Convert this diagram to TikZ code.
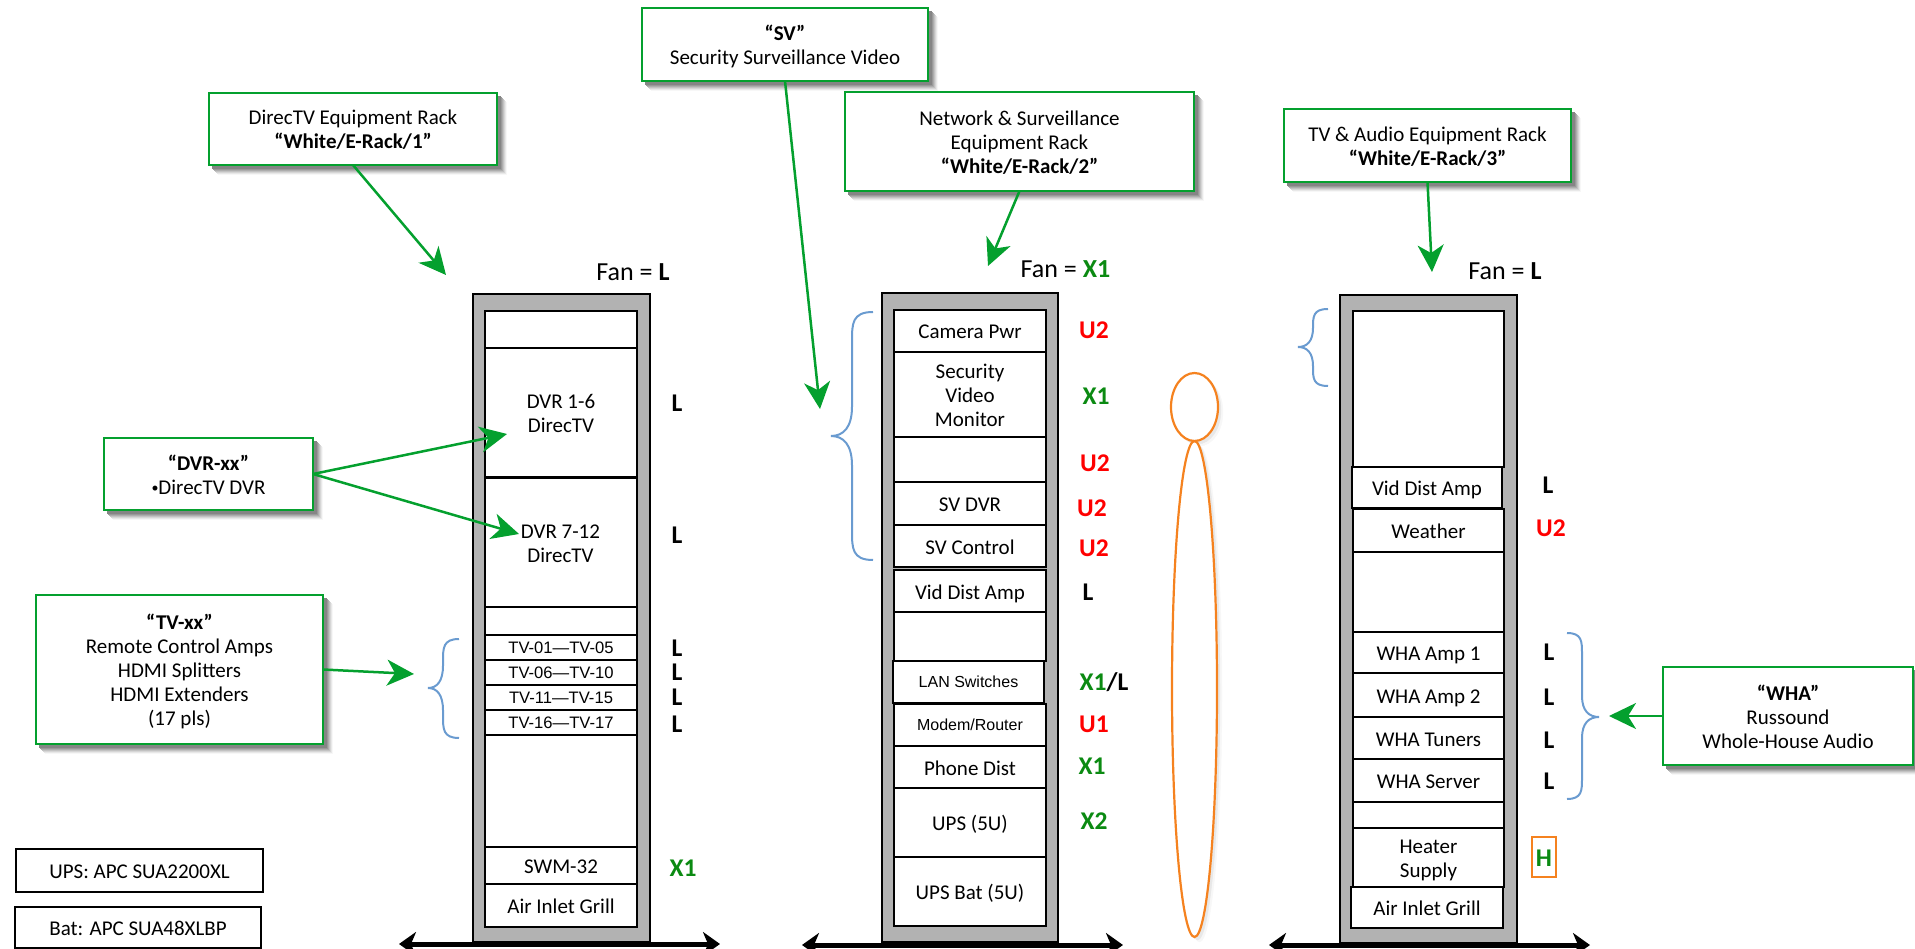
\documentclass[tikz,border=0pt]{standalone}
\usepackage{fontspec}
\setmainfont{Carlito}
\newfontfamily\arialf{Liberation Sans}
\usetikzlibrary{arrows.meta,shapes.geometric}
\definecolor{grn}{HTML}{04A02E}
\definecolor{dgrn}{HTML}{0B8A12}
\definecolor{rackgray}{HTML}{B2B2B2}
\definecolor{bracec}{HTML}{6A9BD0}
\definecolor{orng}{HTML}{F5821F}
\definecolor{sha}{gray}{0.97}
\definecolor{shb}{gray}{0.91}
\definecolor{shc}{gray}{0.84}
\definecolor{shd}{gray}{0.76}
\definecolor{she}{gray}{0.68}
\definecolor{shf}{gray}{0.60}
\definecolor{shg}{gray}{0.52}
\newcommand\lnst{\rule[-4pt]{0pt}{24pt}}
\newcommand\bgst{\rule[-6pt]{0pt}{28.4pt}}
\newcommand\rkfont{\fontsize{21}{24}\selectfont}
\newcommand\bgfont{\fontsize{25.5}{28}\selectfont}
\newcommand\tvfont{\arialf\fontsize{16.6}{20}\selectfont}
\tikzset{
  callout/.style={draw=grn,line width=2.6pt,fill=white,inner sep=0pt,outer sep=0pt,align=center,font=\rkfont},
  plainbox/.style={draw=black,line width=1.8pt,fill=white,inner sep=0pt,outer sep=0pt,align=center,font=\rkfont},
  rackbody/.style={draw=black,line width=2.2pt,fill=rackgray,inner sep=0pt,outer sep=0pt},
  rackitem/.style={draw=black,line width=2pt,fill=white,inner sep=0pt,outer sep=0pt,align=center,font=\rkfont},
  bigtag/.style={inner sep=0pt,outer sep=0pt,font=\bgfont\bfseries},
  fantag/.style={inner sep=0pt,outer sep=0pt,font=\fontsize{26}{28}\selectfont},
  greenarrow/.style={draw=grn,line width=2.5pt,-{Stealth[length=27pt,width=26pt,inset=8pt]}},
  groundline/.style={draw=black,line width=5pt,{Stealth[length=17pt,width=24pt,inset=5pt]}-{Stealth[length=17pt,width=24pt,inset=5pt]}},
  brace/.style={draw=bracec,line width=2pt},
  person/.style={ellipse,draw=orng,line width=2.2pt,fill=white,inner sep=0pt,outer sep=0pt}
}
% box from corners: style, name, x1,y1,x2,y2, text
\newcommand\bx[7]{\node[#1,minimum width={(#5-#3)*1pt},minimum height={(#6-#4)*1pt}] (#2) at ({(#3+#5)/2},{(#4+#6)/2}) {#7};}
% callout with a soft shadow built of solid greys: name, x1,y1,x2,y2, text
\newcommand\shr[5]{\path[draw=#1,fill=#1,line width=0.4pt] ({#2},{#3}) rectangle ({#4},{#5});}
\newcommand\cbx[6]{%
  \shr{sha}{#2+9}{#3+9}{#4+9}{#5+9}\shr{shb}{#2+8}{#3+8}{#4+8}{#5+8}%
  \shr{shc}{#2+7}{#3+7}{#4+7}{#5+7}\shr{shd}{#2+6}{#3+6}{#4+6}{#5+6}%
  \shr{she}{#2+5}{#3+5}{#4+5}{#5+5}\shr{shf}{#2+4}{#3+4}{#4+4}{#5+4}%
  \shr{shg}{#2+3}{#3+3}{#4+3}{#5+3}%
  \bx{callout}{#1}{#2}{#3}{#4}{#5}{#6}}
\newcommand\tg[5]{\node[bigtag,text=#4] (#1) at (#2,#3) {\bgst #5};}
\newcommand\crly[6]{%
  \pgfmathsetmacro\rr{min(1.4*abs(#1-#2),(#5-#4)/2)}%
  \pgfmathsetmacro\tipc{#2+0.4*(#3-#2)}%
  \draw[brace] (#1,#4) .. controls (#2,#4) and (#2,{#4+.4*\rr}) .. (#2,{#4+\rr})
    -- (#2,{#5-\rr}) .. controls (#2,{#5-.3*\rr}) and (\tipc,#5) .. (#3,#5)
    .. controls (\tipc,#5) and (#2,{#5+.3*\rr}) .. (#2,{#5+\rr})
    -- (#2,{#6-\rr}) .. controls (#2,{#6-.4*\rr}) and (#2,#6) .. (#1,#6);}
\begin{document}
\begin{tikzpicture}[x=1pt,y=-1pt]
\useasboundingbox (0,0) rectangle (1915,949);
% ---------- person
\path[draw=sha,fill=sha] (1199.5,694) ellipse (22.5 and 248);
\path[draw=sha,fill=sha] (1199.5,412) ellipse (23.5 and 34);
\path[draw=shb,fill=shb] (1197.5,692) ellipse (22.5 and 248);
\path[draw=shb,fill=shb] (1197.5,410) ellipse (23.5 and 34);
\node[person,minimum width=45pt,minimum height=496pt] (body) at (1194.5,689) {};
\node[person,minimum width=47pt,minimum height=68pt] (head) at (1194.5,407) {};
% ---------- racks
\bx{rackbody}{rackA}{473}{294}{650}{942}{}
\bx{rackbody}{rackB}{882}{293}{1058}{942}{}
\bx{rackbody}{rackC}{1340}{295}{1517}{943}{}
% rack A
\bx{rackitem}{a0}{485}{311}{637}{348}{}
\bx{rackitem}{a1}{485}{348}{637}{477}{\lnst DVR 1-6\\\lnst DirecTV}
\bx{rackitem}{a3}{485}{607}{637}{635}{}
\bx{rackitem}{a2}{484.5}{478}{636.5}{607}{\lnst DVR 7-12\\\lnst DirecTV}
\bx{rackitem,font=\tvfont}{a4}{485}{635}{637}{660}{TV-01—TV-05}
\bx{rackitem,font=\tvfont}{a5}{485}{660}{637}{685}{TV-06—TV-10}
\bx{rackitem,font=\tvfont}{a6}{485}{685}{637}{710}{TV-11—TV-15}
\bx{rackitem,font=\tvfont}{a7}{485}{710}{637}{735}{TV-16—TV-17}
\bx{rackitem}{a8}{485}{735}{637}{847}{}
\bx{rackitem}{a9}{485}{847}{637}{884}{\lnst SWM-32}
\bx{rackitem}{a10}{485}{884}{637}{927}{\lnst Air Inlet Grill}
% rack B
\bx{rackitem}{b0}{894}{310}{1046}{352}{\lnst Camera Pwr}
\bx{rackitem}{b1}{894}{352}{1046}{437}{\lnst Security\\\lnst Video\\\lnst Monitor}
\bx{rackitem}{b2}{894}{437}{1046}{482}{}
\bx{rackitem}{b3}{894}{482}{1046}{525}{\lnst SV DVR}
\bx{rackitem}{b4}{894}{525}{1046}{567}{\lnst SV Control}
\bx{rackitem}{b5}{894}{570}{1046}{612}{\lnst Vid Dist Amp}
\bx{rackitem}{b6}{894}{612}{1046}{661}{}
\bx{rackitem,font=\arialf\fontsize{16}{20}\selectfont}{b7}{893}{661}{1044}{703}{LAN Switches}
\bx{rackitem,font=\arialf\fontsize{16}{20}\selectfont}{b8}{894}{704}{1046}{746}{Modem/Router}
\bx{rackitem}{b9}{894}{746}{1046}{788}{\lnst Phone Dist}
\bx{rackitem}{b10}{894}{788}{1046}{857}{\lnst UPS (5U)}
\bx{rackitem}{b11}{894}{857}{1046}{926}{\lnst UPS Bat (5U)}
% rack C
\bx{rackitem}{c0}{1353}{311}{1504}{467}{}
\bx{rackitem}{c1}{1352}{467}{1502}{508}{\lnst Vid Dist Amp}
\bx{rackitem}{c2}{1353}{509}{1504}{552}{\lnst Weather}
\bx{rackitem}{c3}{1353}{552}{1504}{632}{}
\bx{rackitem}{c4}{1353}{632}{1504}{673}{\lnst WHA Amp 1}
\bx{rackitem}{c5}{1353}{673}{1504}{717}{\lnst WHA Amp 2}
\bx{rackitem}{c6}{1353}{717}{1504}{759}{\lnst WHA Tuners}
\bx{rackitem}{c7}{1353}{759}{1504}{802}{\lnst WHA Server}
\bx{rackitem}{c8}{1353}{802}{1504}{828}{}
\bx{rackitem}{c9}{1353}{828}{1504}{887}{\lnst Heater\\\lnst Supply}
\bx{rackitem}{c10}{1351}{887}{1503}{928}{\lnst Air Inlet Grill}
% ---------- ground lines
\coordinate (g1l) at (399,944); \coordinate (g1r) at (720,944);
\coordinate (g2l) at (802,945); \coordinate (g2r) at (1123,945);
\coordinate (g3l) at (1269,945); \coordinate (g3r) at (1590,945);
\draw[groundline] (g1l) -- (g1r);
\draw[groundline] (g2l) -- (g2r);
\draw[groundline] (g3l) -- (g3r);
% ---------- braces
\crly{459}{443}{428}{639}{688}{738}
\crly{873}{852}{831}{312}{436}{560}
\crly{1328}{1313}{1298}{309}{347}{386}
\crly{1567}{1582}{1599}{633}{717}{799}
% ---------- callouts
\cbx{cSV}{642}{8}{928}{81}{\lnst\textbf{“SV”}\\\lnst Security Surveillance Video}
\cbx{cA}{209}{93}{497}{165}{\lnst DirecTV Equipment Rack\\\lnst\textbf{“White/E-Rack/1”}}
\cbx{cB}{845}{92}{1194}{191}{\lnst Network \& Surveillance\\\lnst Equipment Rack\\\lnst\textbf{“White/E-Rack/2”}}
\cbx{cC}{1284}{109}{1571}{182}{\lnst TV \& Audio Equipment Rack\\\lnst\textbf{“White/E-Rack/3”}}
\cbx{cDVR}{104}{438}{313}{510}{\lnst\textbf{“DVR-xx”}\\\lnst\raisebox{1.5pt}{\fontsize{14}{14}\selectfont •}DirecTV DVR}
\cbx{cTV}{36}{595}{323}{744}{\lnst\textbf{“TV-xx”}\\\lnst Remote Control Amps\\\lnst HDMI Splitters\\\lnst HDMI Extenders\\\lnst (17 pls)}
\cbx{cWHA}{1663}{667}{1913}{765}{\lnst\textbf{“WHA”}\\\lnst Russound\\\lnst Whole-House Audio}
\bx{plainbox}{ups}{16}{849}{263}{892}{\lnst UPS: APC SUA2200XL}
\bx{plainbox}{bat}{15}{907}{261}{948}{\lnst Bat: APC SUA48XLBP}
% ---------- arrows
\coordinate (tA) at (446,275);
\coordinate (tSV) at (820,409);
\coordinate (tB) at (988,266);
\coordinate (tC) at (1432,272);
\coordinate (tD1) at (507,434);
\coordinate (tD2) at (519,534);
\coordinate (tTV) at (414,674);
\coordinate (tW) at (1609,716);
\draw[greenarrow] (cA.south) -- (tA);
\draw[greenarrow] (cSV.south) -- (tSV);
\draw[greenarrow] (cB.south) -- (tB);
\draw[greenarrow] (cC.south) -- (tC);
\draw[greenarrow] (cDVR.east) -- (tD1);
\draw[greenarrow] (cDVR.east) -- (tD2);
\draw[greenarrow] (cTV.east) -- (tTV);
\draw[greenarrow] (cWHA.west) -- (tW);
% ---------- fan labels
\node[fantag] (fanA) at (633,272) {\bgst Fan = \textbf{L}};
\node[fantag] (fanB) at (1065.5,269) {\bgst Fan = \textcolor{dgrn}{\textbf{X1}}};
\node[fantag] (fanC) at (1505,271) {\bgst Fan = \textbf{L}};
% ---------- rack tags
\tg{lA1}{677}{403}{black}{L}
\tg{lA2}{677}{535}{black}{L}
\tg{lA3}{677}{648}{black}{L}
\tg{lA4}{677}{672}{black}{L}
\tg{lA5}{677}{697}{black}{L}
\tg{lA6}{677}{724}{black}{L}
\tg{lA7}{683}{868}{dgrn}{X1}
\tg{lB1}{1094}{330}{red}{U2}
\tg{lB2}{1096}{396}{dgrn}{X1}
\tg{lB3}{1095}{463}{red}{U2}
\tg{lB4}{1092}{508}{red}{U2}
\tg{lB5}{1094}{548}{red}{U2}
\tg{lB6}{1088}{592}{black}{L}
\node[bigtag] (lB7) at (1104,682) {\bgst\textcolor{dgrn}{X1}/L};
\tg{lB8}{1094}{724}{red}{U1}
\tg{lB9}{1092}{766}{dgrn}{X1}
\tg{lB10}{1094}{821}{dgrn}{X2}
\tg{lC1}{1548}{485}{black}{L}
\tg{lC2}{1551}{528}{red}{U2}
\tg{lC3}{1549}{652}{black}{L}
\tg{lC4}{1549}{697}{black}{L}
\tg{lC5}{1549}{740}{black}{L}
\tg{lC6}{1549}{781}{black}{L}
\bx{inner sep=0pt,outer sep=0pt,draw=orng,line width=2.2pt,font=\bgfont\bfseries,text=dgrn}{lC7}{1532}{837}{1556}{877}{\rule[-5pt]{0pt}{28.4pt}H}
\end{tikzpicture}
\end{document}
